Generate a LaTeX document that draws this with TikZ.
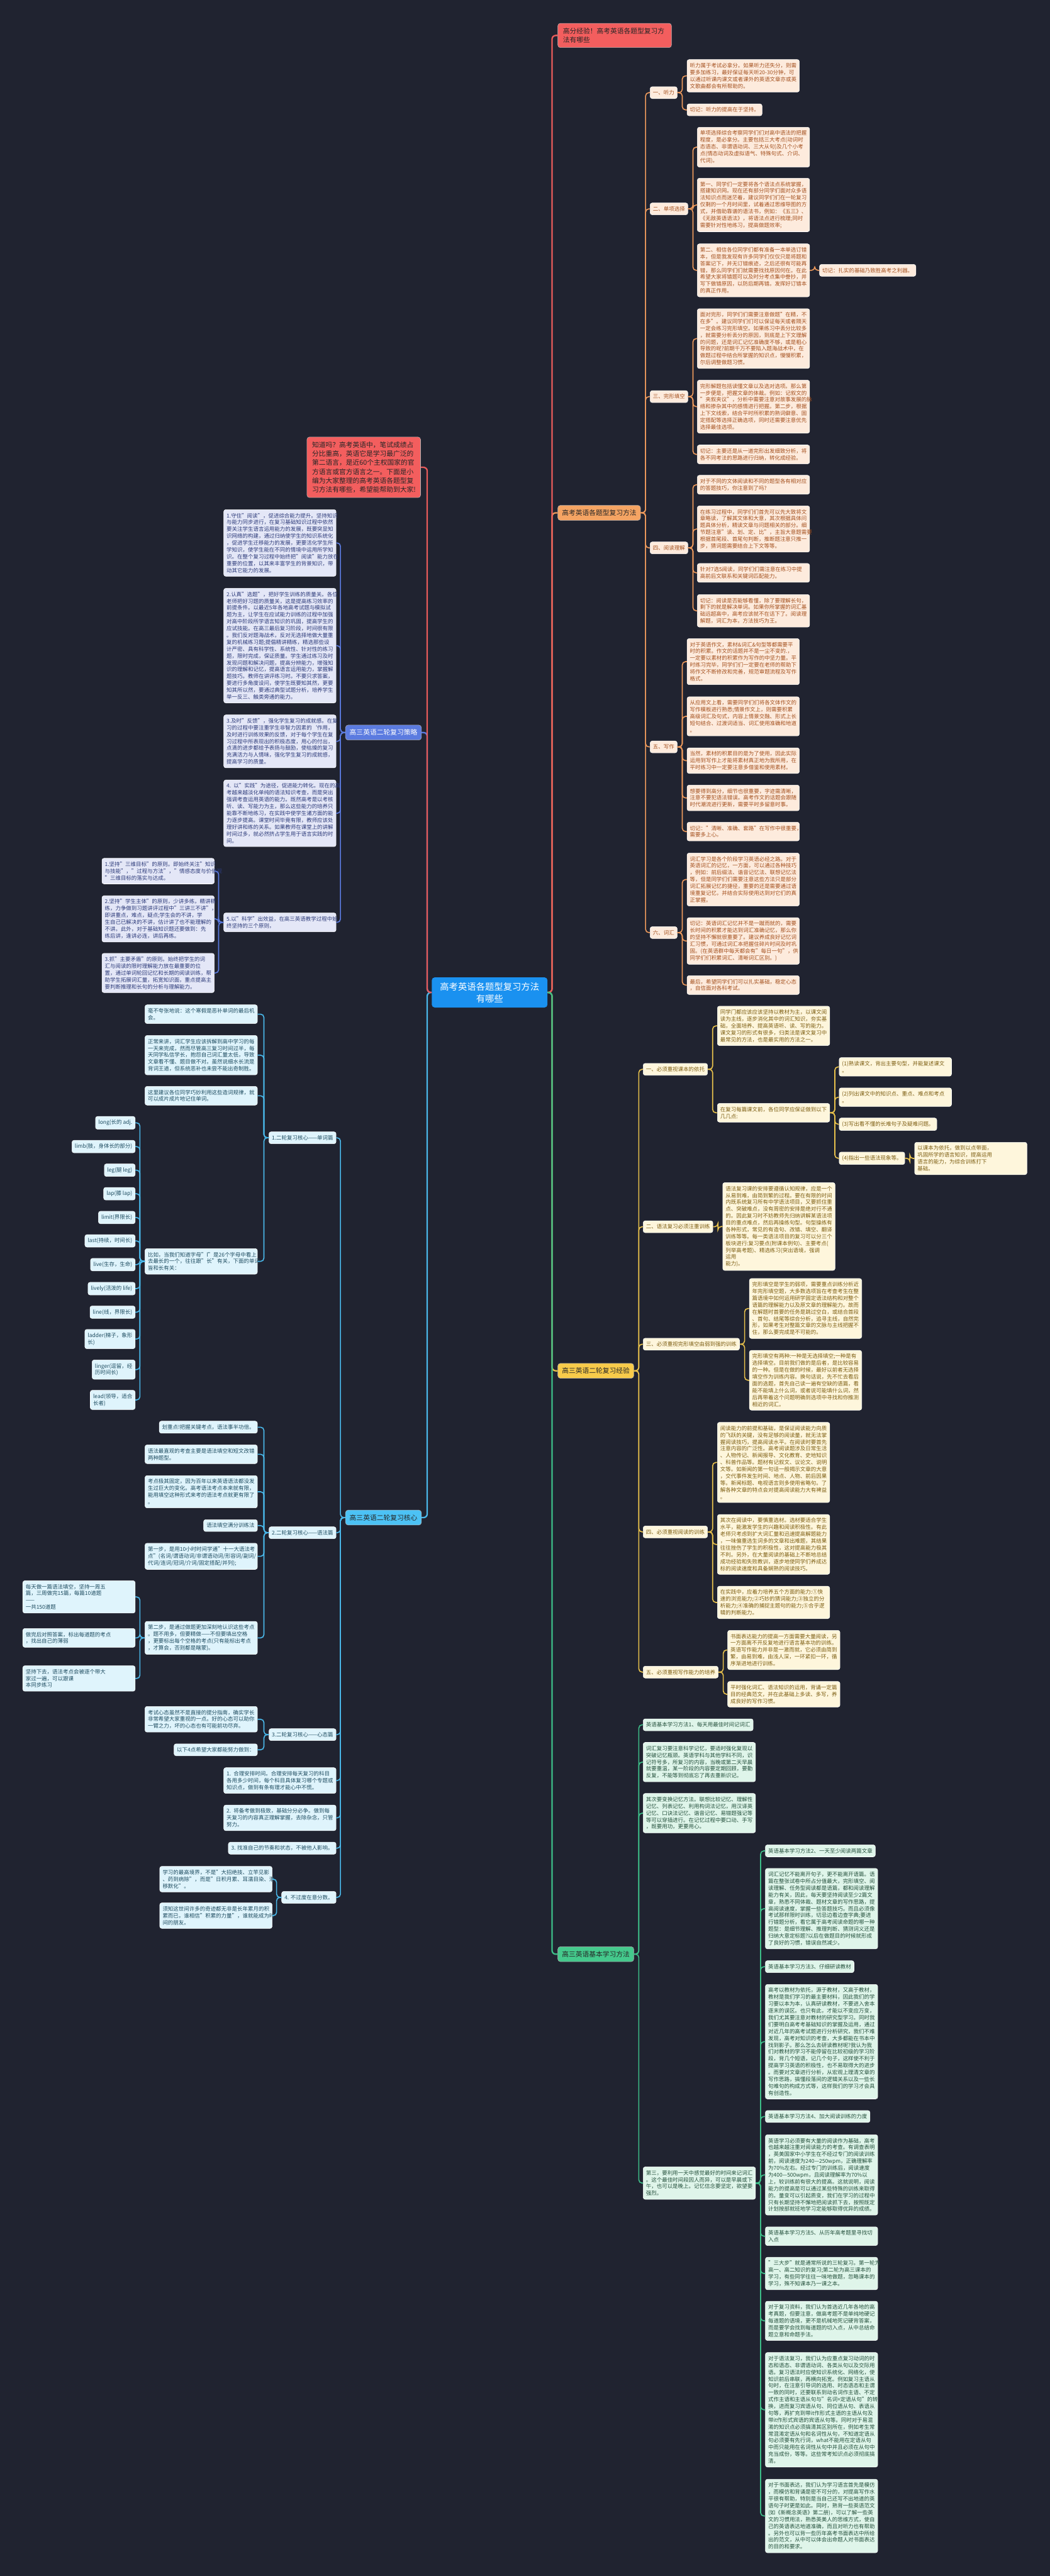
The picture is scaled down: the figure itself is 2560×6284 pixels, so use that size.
\documentclass[tikz,border=0pt]{standalone}
\usepackage{fontspec}
\setmainfont{Noto Sans CJK SC}
\definecolor{bgc}{HTML}{202330}
\definecolor{hubc}{HTML}{1A91F0}
\definecolor{redn}{HTML}{F35E5E}
\definecolor{rline}{HTML}{E85B5B}
\definecolor{orn}{HTML}{F5A463}
\definecolor{oline}{HTML}{EE9A5C}
\definecolor{ofill}{HTML}{FDEBDD}
\definecolor{otext}{HTML}{A4501E}
\definecolor{bln}{HTML}{5B7BE0}
\definecolor{bfill}{HTML}{E4E7F7}
\definecolor{btext}{HTML}{2D3B7A}
\definecolor{cyn}{HTML}{4CC2F5}
\definecolor{cline}{HTML}{4AB8EA}
\definecolor{cfill}{HTML}{DFF4FC}
\definecolor{ctext}{HTML}{1E4C60}
\definecolor{yln}{HTML}{F8CB4A}
\definecolor{yline}{HTML}{E9C24C}
\definecolor{yfill}{HTML}{FEF6DC}
\definecolor{ytext}{HTML}{7D5E12}
\definecolor{grn}{HTML}{44C98C}
\definecolor{gline}{HTML}{3DBE88}
\definecolor{gfill}{HTML}{DFF5EA}
\definecolor{gtext}{HTML}{24503C}
\tikzset{
  nd/.style={rounded corners=5pt, align=left, inner xsep=7pt, inner ysep=8.5pt,
    draw=white, line width=0.8pt, font=\fontsize{13}{16.7}\selectfont},
  wide/.style={text width=260pt},
  oleaf/.style={nd, fill=ofill, text=otext},
  bleaf/.style={nd, fill=bfill, text=btext},
  cleaf/.style={nd, fill=cfill, text=ctext},
  yleaf/.style={nd, fill=yfill, text=ytext},
  gleaf/.style={nd, fill=gfill, text=gtext},
  topic/.style={rounded corners=6pt, align=left, inner xsep=10pt, inner ysep=10.5pt,
    draw=white!70!black, line width=0.8pt, font=\fontsize{16.5}{22}\selectfont},
  note/.style={topic, fill=redn, text=black!85, text width=252pt, inner xsep=12.5pt, inner ysep=11pt},
  link/.style={line width=2.5pt, rounded corners=8pt},
  mainlink/.style={line width=3.5pt, rounded corners=9pt}
}
\begin{document}
\begin{tikzpicture}[x=1pt,y=-1pt]
\fill[bgc] (0,0) rectangle (2560,6284);
\useasboundingbox (0,0) rectangle (2560,6284);

% centre
\node[rounded corners=7pt, fill=hubc, text=white, align=center, inner xsep=20pt, inner ysep=12pt,
  font=\fontsize{22}{29}\selectfont] (hub) at (1194,2421) {高考英语各题型复习方法\\有哪些};

% ---------- right: topics ----------
\node[note, anchor=west] (tip) at (1360,86.5) {高分经验！高考英语各题型复习方\\法有哪些};
\node[topic, fill=orn, text=black!85, anchor=west] (ty) at (1360,1251) {高考英语各题型复习方法};
\node[topic, fill=yln, text=black!85, anchor=west] (jy) at (1360,3344) {高三英语二轮复习经验};
\node[topic, fill=grn, text=black!85, anchor=west] (ff) at (1360,4767) {高三英语基本学习方法};

\node[oleaf, anchor=west] (ty1) at (1585,226) {一、听力};
\node[oleaf, anchor=west] (ty2) at (1585,509.5) {二、单项选择};
\node[oleaf, anchor=west] (ty3) at (1585,967.5) {三、完形填空};
\node[oleaf, anchor=west] (ty4) at (1585,1336.5) {四、阅读理解};
\node[oleaf, anchor=west] (ty5) at (1585,1822) {五、写作};
\node[oleaf, anchor=west] (ty6) at (1585,2275) {六、词汇};

\node[oleaf, wide, anchor=west] (ty1a) at (1675,185) {听力属于考试必拿分。如果听力还失分，则需\\要多加练习，最好保证每天听20-30分钟，可\\以通过听课内课文或者课外的英语文章亦或英\\文歌曲都会有所帮助的。};
\node[oleaf, anchor=west] (ty1b) at (1675,268) {切记：听力的提高在于坚持。};

\node[oleaf, wide, anchor=west] (ty2a) at (1700,359) {单项选择综合考察同学们们对高中语法的把握\\程度，是必拿分。主要包括三大考点(动词时\\态语态、非谓语动词、三大从句)及几个小考\\点(情态动词及虚拟语气、特殊句式、介词、\\代词)。};
\node[oleaf, wide, anchor=west] (ty2b) at (1700,500) {第一、同学们一定要将各个语法点系统掌握，\\搭建知识网。现在还有部分同学们面对众多语\\法知识点而迷茫着，建议同学们们在一轮复习\\仅剩的一个月时间里，试着通过思维导图的方\\式，并借助靠谱的语法书，例如：《五三》、\\《无敌英语语法》，将语法点进行梳理;同时\\需要针对性地练习，提高做题效率;};
\node[oleaf, wide, anchor=west] (ty2c) at (1700,659.5) {第二、相信各位同学们都有准备一本单选订错\\本，但是我发现有许多同学们仅仅只是将题和\\答案记下，并无订错痕迹，之后还很有可能再\\错，那么同学们们就需要找找原因何在。在此\\希望大家将错题可以及时分考点集中誊抄，并\\写下做错原因，以防后期再错。发挥好订错本\\的真正作用。};
\node[oleaf, anchor=west] (ty2d) at (1998,659.5) {切记：扎实的基础乃致胜高考之利器。};

\node[oleaf, wide, anchor=west] (ty3a) at (1700,826) {面对完形，同学们们需要注意做题"在精，不\\在多"。建议同学们们可以保证每天或者隔天\\一定会练习完形填空。如果练习中丢分比较多\\，就需要分析丢分的原因，到底是上下文理解\\的问题，还是词汇记忆准确度不够，或是粗心\\导致的呢?前期千万不要陷入题海战术中，在\\做题过程中结合所掌握的知识点，慢慢积累，\\尔后调整做题习惯。};
\node[oleaf, wide, anchor=west] (ty3b) at (1700,992) {完形解题包括读懂文章以及选对选项。那么第\\一步便是，把握文章的体裁。例如：记叙文的\\"夹叙夹议"，分析中需要注意对故事发展的脉\\络和掺杂其中的感情进行把握。第二步，根据\\上下文线索，结合平时所积累的熟词僻意、固\\定搭配等选择正确选项，同时还需要注意优先\\选择最佳选项。};
\node[oleaf, wide, anchor=west] (ty3c) at (1700,1108.5) {切记：主要还是从一道完形出发细致分析，将\\各不同考法的思路进行归纳，转化成经验。};

\node[oleaf, wide, anchor=west] (ty4a) at (1700,1182.5) {对于不同的文体阅读和不同的题型各有相对应\\的答题技巧，你注意到了吗?};
\node[oleaf, wide, anchor=west] (ty4b) at (1700,1290.5) {在练习过程中，同学们们首先可以先大致将文\\章略读，了解其文体和大意，其次根据具体问\\题具体分析，精读文章与问题相关的部分。细\\节题注意"读、划、定、比"，主旨大意题需要\\根据首尾段、首尾句判断，推断题注意只推一\\步，猜词题需要结合上下文等等。};
\node[oleaf, wide, anchor=west] (ty4c) at (1700,1397.5) {针对7选5阅读，同学们们需注意在练习中提\\高前后文联系和关键词匹配能力。};
\node[oleaf, wide, anchor=west] (ty4d) at (1700,1490) {切记：阅读是否能够看懂，除了要理解长句，\\剩下的就是解决单词。如果你所掌握的词汇基\\础远超高中，高考应该就不在话下了。阅读理\\解题，词汇为本，方法技巧为王。};

\node[oleaf, wide, anchor=west] (ty5a) at (1675,1614) {对于英语作文，素材\&词汇\&句型等都需要平\\时的积累。作文的话题并不是一尘不变的.，\\一定要以素材的积累作为写作的中坚力量。平\\时练习完毕，同学们们一定要在老师的帮助下\\将作文不断修改和完善，规范审题流程及写作\\格式。};
\node[oleaf, wide, anchor=west] (ty5b) at (1675,1747.5) {从应用文上看，需要同学们们将各文体作文的\\写作模板进行熟悉;情景作文上，则需要积累\\高级词汇及句式，内容上情景交融、形式上长\\短句结合、过渡词适当、词汇使用准确和地道\\。};
\node[oleaf, wide, anchor=west] (ty5c) at (1675,1855.5) {当然，素材的积累目的是为了使用，因此实际\\运用到写作上才能将素材真正地为我所用，在\\平时练习中一定要注意多借鉴和使用素材。};
\node[oleaf, wide, anchor=west] (ty5d) at (1675,1946.5) {想要得到高分，细节也很重要，字迹需清晰，\\注意不要犯语法错误。高考作文的话题会跟随\\时代潮流进行更新，需要平时多留意时事。};
\node[oleaf, wide, anchor=west] (ty5e) at (1675,2028.5) {切记："清晰、准确、套路"在写作中很重要，\\需要多上心。};

\node[oleaf, wide, anchor=west] (ty6a) at (1675,2145.5) {词汇学习是各个阶段学习英语必经之路。对于\\英语词汇的记忆，一方面，可以通过各种技巧\\，例如：前后缀法、谐音记忆法、联想记忆法\\等，但是同学们们需要注意这些方法只是部分\\词汇拓展记忆的捷径，重要的还是需要通过语\\境重复记忆，并结合实际使用达到对它们的真\\正掌握。};
\node[oleaf, wide, anchor=west] (ty6b) at (1675,2295.5) {切记：英语词汇记忆并不是一蹴而就的，需要\\长时间的积累才能达到词汇准确记忆，那么你\\的坚持不懈就很重要了。建议养成良好记忆词\\汇习惯，可通过词汇本把握住碎片时间及时巩\\固。(在英语群中每天都会有"每日一句"，供\\同学们们积累词汇、清晰词汇区别。)};
\node[oleaf, wide, anchor=west] (ty6c) at (1675,2403) {最后，希望同学们们可以扎实基础，稳定心态\\，自信面对各科考试。};

% yellow
\node[yleaf, anchor=west] (jy1) at (1568,2608.5) {一、必须重视课本的依托};
\node[yleaf, anchor=west] (jy2) at (1568,2992.5) {二、语法复习必须注重训练};
\node[yleaf, anchor=west] (jy3) at (1568,3279) {三、必须重视完形填空由弱到强的训练};
\node[yleaf, anchor=west] (jy4) at (1568,3737) {四、必须重视阅读的训练};
\node[yleaf, anchor=west] (jy5) at (1568,4079) {五、必须重视写作能力的培养};

\node[yleaf, wide, anchor=west] (jy1a) at (1749,2502.5) {同学门都应该应该坚持以教材为主，以课文阅\\读为主线，逐步消化其中的词汇知识，夯实基\\础，全面培养、提高英语听、读、写的能力。\\课文复习的形式有很多，归类法是课文复习中\\最常见的方法，也是最实用的方法之一。};
\node[yleaf, wide, anchor=west] (jy1b) at (1749,2714.5) {在复习每篇课文前，各位同学应保证做到以下\\几几点:};
\node[yleaf, wide, anchor=west] (jy1b1) at (2046,2602.5) {(1)熟读课文，背出主要句型，并能复述课文\\。};
\node[yleaf, wide, anchor=west] (jy1b2) at (2046,2676.5) {(2)列出课文中的知识点、重点、难点和考点\\。};
\node[yleaf, anchor=west] (jy1b3) at (2046,2742.5) {(3)写出看不懂的长难句子及疑难问题。};
\node[yleaf, anchor=west] (jy1b4) at (2046,2825.5) {(4)指出一些语法现象等。};
\node[yleaf, wide, anchor=west] (jy1b4a) at (2230,2826) {以课本为依托，做到以点带面，\\巩固所学的语言知识，提高运用\\语言的能力，为综合训练打下\\基础。};
\node[yleaf, wide, anchor=west] (jy2a) at (1762,2992) {语法复习课的安排要遵循认知规律，应是一个\\从易到难，由简到繁的过程。要在有限的时间\\内既系统复习所有中学语法项目，又要抓住重\\点、突破难点，没有周密的安排是绝对行不通\\的。因此复习时不妨教师先归纳讲解某语法项\\目的重点难点，然后再操练句型。句型操练有\\各种形式，常见的有造句、改错、填空、翻译\\训练等等。每一类语法项目的复习可以分三个\\板块进行:复习要点(附课本例句)、主要考点(\\列举高考题)、精选练习(突出语境，强调 运用\\能力)。};
\node[yleaf, wide, anchor=west] (jy3a) at (1827,3192) {完形填空是学生的弱项，需要重点训练分析近\\年完形填空题，大多数选项旨在考查考生在整\\篇语境中如何运用研学固定语法结构和对整个\\语篇的理解能力以及原文章的理解能力。故而\\在解题时首要的任务是跳过空白，或结合首段\\、首句、结尾等综合分析，追寻主线，自然完\\形，如果考生对整篇文章的文脉与主线把握不\\住，那么要完成是不可能的。};
\node[yleaf, wide, anchor=west] (jy3b) at (1827,3367) {完形填空有两种:一种是无选择填空;一种是有\\选择填空。目前我们做的是后者，是比较容易\\的一种。但是在做的时候，最好以前者无选择\\填空作为训练内容。换句话说，先不忙去看后\\面的选题，首先自己读一遍有空缺的语篇，看\\能不能填上什么词，或者说可能填什么词，然\\后再带着这个问题明确到选项中寻找和你推测\\相近的词汇。};
\node[yleaf, wide, anchor=west] (jy4a) at (1749,3567.5) {阅读能力的前提和基础，是保证阅读能力向质\\的飞跃的关键，没有足够的阅读量，就无法掌\\握阅读技巧，提高阅读水平。在阅读时要首先\\注意内容的广泛性。高考阅读题涉及日常生活\\、人物传记、新闻报导、文化教育、史地知识\\、科普作品等。题材有记叙文、议论文、说明\\文等。如新闻的第一句话一般揭示文章的大意\\，交代事件发生时间、地点、人物、前后因果\\等。新闻标题、电视语言则多使用省略句。了\\解各种文章的特点会对提高阅读能力大有裨益\\。};
\node[yleaf, wide, anchor=west] (jy4b) at (1749,3767.5) {其次在阅读中，要慎重选材。选材要适合学生\\水平，能激发学生的兴趣和阅读积极性。有此\\老师只考虑到扩大词汇量和迅速提高解题能力\\，一味偏重选生词多的文章和出难题，其结果\\往往挫伤了学生的积极性，这对提高能力极其\\不利。另外，在大量阅读的基础上不断地总结\\成功经验和失败教训，逐步地使同学们养成达\\标的阅读速度和具备娴熟的阅读技巧。};
\node[yleaf, wide, anchor=west] (jy4c) at (1749,3909) {在实践中，应着力培养五个方面的能力:①快\\速的浏览能力;②巧妙的猜词能力;③独立的分\\析能力;④准确的捕捉主题句的能力;⑤合乎逻\\辑的判断能力。};
\node[yleaf, wide, anchor=west] (jy5a) at (1774,4025) {书面表达能力的提高一方面需要大量阅读，另\\一方面离不开反复地进行语言基本功的训练。\\英语写作能力并非是一激而就，它必须由简到\\繁，由易到难，由浅人深，一环紧扣一环，循\\序渐进地进行训练。};
\node[yleaf, wide, anchor=west] (jy5b) at (1774,4133) {平时强化词汇、语法知识的运用，背诵一定篇\\目的经典范文，并在此基础上多读、多写，养\\成良好的写作习惯。};

% green
\node[gleaf, anchor=west] (ff1) at (1568,4207.5) {英语基本学习方法1、每天用最佳时间记词汇};
\node[gleaf, wide, anchor=west] (ff2) at (1568,4298.5) {词汇复习要注意科学记忆，要适时强化复现以\\突破记忆瓶颈。英语学科与其他学科不同，识\\记符号多，所复习的内容，当晚或第二天早晨\\就要重温，某一阶段的内容要定期回顾，要勤\\反复，不能等到彻底忘了再去重新识记。};
\node[gleaf, wide, anchor=west] (ff3) at (1568,4423) {其次要变换记忆方法。联想比较记忆、理解性\\记忆、列表记忆、利用构词法记忆，用汉译英\\记忆、口诀法记忆、谐音记忆、易错题强记等\\等可以穿插进行。在记忆过程中要口动、手写\\，既要用功，更要用心。};
\node[gleaf, wide, anchor=west] (ff4) at (1568,5325.5) {第三，要利用一天中感觉最好的时间来记词汇\\。这个最佳时间段因人而异，可以是早晨或下\\午，也可以是晚上。记忆信念要坚定，欲望要\\强烈。};
\node[gleaf, anchor=west] (ff4a) at (1866,4515) {英语基本学习方法2、一天至少阅读两篇文章};
\node[gleaf, wide, anchor=west] (ff4b) at (1866,4656) {词汇记忆不能离开句子，更不能离开语篇。语\\篇在整张试卷中所占分值最大，完形填空、阅\\读理解、任务型阅读都是语篇，都和阅读理解\\能力有关，因此，每天要坚持阅读至少2篇文\\章，熟悉不同体裁、题材文章的写作思路，提\\高阅读速度，掌握一些答题技巧。而且必须像\\考试那样限时训练，切忌边看边查字典;要进\\行错题分析，看它属于高考阅读命题的哪一种\\题型：是细节理解、推理判断、猜测词义还是\\归纳大意定标题?以后在做题目的时候就形成\\了良好的习惯，错误自然减少。};
\node[gleaf, anchor=west] (ff4c) at (1866,4797.5) {英语基本学习方法3、仔细研读教材};
\node[gleaf, wide, anchor=west] (ff4d) at (1866,4980.5) {高考以教材为依托，源于教材，又高于教材，\\教材是我们学习的最主要材料，因此我们的学\\习要以本为本，认真研读教材，不要进入舍本\\逐末的误区。也只有此，才能以不变应万变，\\我们尤其要注意对教材的研究型学习。同时我\\们要明白高考考基础知识的掌握及运用，通过\\对近几年的高考试题进行分析研究，我们不难\\发现，高考对知识的考查，大多都能在书本中\\找到影子。那么怎么去研读教材呢?我认为我\\们对教材的学习不能停留在比较初级的学习阶\\段，背几个短语，记几个句子，这样使不利于\\提高学习英语的积极性，也不易取得大的进步\\。而要对文章进行分析，从宏观上理清文章的\\写作思路，搞懂段落间的逻辑关系以及一些长\\句难句的构成方式等，这样我们的学习才会具\\有创造性。};
\node[gleaf, anchor=west] (ff4e) at (1866,5163) {英语基本学习方法4、加大阅读训练的力度};
\node[gleaf, wide, anchor=west] (ff4f) at (1866,5305.5) {英语学习必须要有大量的阅读作为基础，高考\\也越来越注重对阅读能力的考查。有调查表明\\，英美国家中小学生在不经过专门的阅读训练\\前，阅读速度为240—250wpm，正确理解率\\为70\%左右。经过专门的训练后，阅读速度\\为400—500wpm，且阅读理解率为70\%以\\上，较训练前有很大的提高。这就说明，阅读\\能力的提高是可以通过某些特殊的训练来取得\\的。量变可以引起质变，我们在学习的过程中\\只有长期坚持不懈地把阅读抓下去，按照既定\\计划按部就班地学习定能够取得优异的成绩。};
\node[gleaf, wide, anchor=west] (ff4g) at (1866,5455) {英语基本学习方法5、从历年高考题里寻找切\\入点};
\node[gleaf, wide, anchor=west] (ff4h) at (1866,5546) {"三大步"就是通常所说的三轮复习。第一轮为\\高一、高二知识的复习;第二轮为高三课本的\\学习，有些同学往往一味地做题，忽略课本的\\学习，殊不知课本乃一课之本。};
\node[gleaf, wide, anchor=west] (ff4i) at (1866,5661.5) {对于复习资料，我们认为首选近几年各地的高\\考真题，但要注意，做高考题不是单纯地硬记\\每道题的语境，更不是机械地死记硬背答案，\\而是要学会找到每道题的切入点，从中总结命\\题立意和命题手法。};
\node[gleaf, wide, anchor=west] (ff4j) at (1866,5878.5) {对于语法复习，我们认为应重点复习动词的时\\态和语态、非谓语动词、各类从句以及交际用\\语。复习语法时应使知识系统化、网络化，使\\知识前后串联，再横向拓宽。例如复习主语从\\句时，在注意引导词的选用、时态语态和主谓\\一致的同时，还要联系到动名词作主语、不定\\式作主语和主语从句与"名词+定语从句"的转\\换，进而复习宾语从句、同位语从句、表语从\\句等，再扩充到带it作形式主语的主语从句及\\带it作形式宾语的宾语从句等。同时对于易混\\淆的知识点必须搞清其区别所在，例如考生常\\常混淆定语从句和名词性从句，不知道定语从\\句必须要有先行词，what不能用在定语从句\\中而只能用在名词性从句中并且必须在从句中\\充当成份，等等。这些常考知识点必须彻底搞\\清。};
\node[gleaf, wide, anchor=west] (ff4k) at (1866,6137.5) {对于书面表达，我们认为学习语言首先是模仿\\，而模仿和背诵是密不可分的，对提高写作水\\平很有帮助，特别是当自己还写不出地道的英\\语句子时更是如此。同时，熟背一些英语范文\\(如《新概念英语》第二册)，可以了解一些英\\文的习惯用法，熟悉英美人的思维方式，使自\\己的英语表达地道准确，而且对听力也有帮助\\。另外也可以背一些历年高考书面表达中所给\\出的范文，从中可以体会出命题人对书面表达\\的目的和要求。};

% ---------- left ----------
\node[note, anchor=east] (intro) at (1026,1140) {知道吗？高考英语中，笔试成绩占\\分比重高，英语它是学习最广泛的\\第二语言，是近60个主权国家的官\\方语言或官方语言之一。下面是小\\编为大家整理的高考英语各题型复\\习方法有哪些，希望能帮助到大家!};
\node[topic, fill=bln, text=white, anchor=east] (cl) at (1028,1787) {高三英语二轮复习策略};
\node[topic, fill=cyn, text=black!85, anchor=east] (hx) at (1028,3702) {高三英语二轮复习核心};

\node[bleaf, wide, anchor=east] (cl1) at (820,1324.5) {1.守住"阅读"，促进综合能力提升。坚持知识\\与能力同步进行，在复习基础知识过程中依然\\要关注学生语言运用能力的发展，既要突显知\\识网络的构建，通过归纳使学生的知识系统化\\，促进学生迁移能力的发展，更要活化学生所\\学知识，使学生能在不同的情境中运用所学知\\识。在整个复习过程中始终把"阅读"能力放在\\重要的位置，以其来丰富学生的背景知识，带\\动其它能力的发展。};
\node[bleaf, wide, anchor=east] (cl2) at (820,1575) {2.认真"选题"，把好学生训练的质量关。各位\\老师把好习题的质量关，这是提高练习效率的\\前提条件。以最近5年各地高考试题与模拟试\\题为主，让学生在应试能力训练的过程中加强\\对高中阶段所学语言知识的巩固，提高学生的\\应试技能。在高三最后复习阶段，时间很有限\\。我们反对题海战术，反对无选择地做大量重\\复的机械练习题;提倡精讲精练，精选那些设\\计严密、具有科学性、系统性、针对性的练习\\题，限时完成，保证质量。学生通过练习及时\\发现问题和解决问题，提高分辨能力，增强知\\识的理解和记忆，提高语言运用能力，掌握解\\题技巧。教师在讲评练习时。不要只求答案，\\要进行多角度设问，使学生既要知其然，更要\\知其所以然，要通过典型试题分析，培养学生\\举一反三、触类旁通的能力。};
\node[bleaf, wide, anchor=east] (cl3) at (820,1808.5) {3.及时"反馈"，强化学生复习的成就感。在复\\习的过程中要注重学生非智力因素的`作用，\\及时进行训练效果的反馈，对于每个学生在复\\习过程中所表现出的积极态度，用心的付出，\\点滴的进步都给予表扬与鼓励，使枯燥的复习\\充满活力与人情味，强化学生复习的成就感，\\提高学习的质量。};
\node[bleaf, wide, anchor=east] (cl4) at (820,1984) {4. 以"实践"为途径，促进能力转化。现在的高\\考越来越淡化单纯的语法知识考查，而是突出\\强调考查运用英语的能力。既然高考是以考核\\听、读、写能力为主，那么这些能力的培养只\\能靠不断地练习，在实践中使学生诸方面的能\\力逐步提高。课堂时间毕竟有限，教师应该处\\理好讲和练的关系。如果教师在课堂上的讲解\\时间过多，就必然挤占学生用于语言实践的时\\间。};
\node[bleaf, wide, anchor=east] (cl5) at (820,2250) {5.以"科学"出效益，在高三英语教学过程中始\\终坚持的三个原则，};
\node[bleaf, wide, anchor=east] (cl5a) at (523,2125) {1.坚持"三维目标"的原则。即始终关注"知识\\与技能"，"过程与方法"，"情感态度与价值观\\"三维目标的落实与达成。};
\node[bleaf, wide, anchor=east] (cl5b) at (523,2241.5) {2.坚持"学生主体"的原则，少讲多练，精讲精\\练，力争做到习题讲评过程中"三讲三不讲"，\\即讲重点，难点，疑点;学生会的不讲，学\\生自己已解决的不讲，估计讲了也不能理解的\\不讲。此外，对于基础知识题还要做到：先\\练后讲，逢讲必连，讲后再练。};
\node[bleaf, wide, anchor=east] (cl5c) at (523,2373.5) {3.抓"主要矛盾"的原则。始终把学生的词\\汇与阅读的限时理解能力放在最重要的位\\置，通过单词轮回记忆和长期的阅读训练，帮\\助学生拓展词汇量，拓宽知识面，重点提高主\\要判断推理和长句的分析与理解能力。};

\node[cleaf, anchor=east] (hx1) at (820,2775.5) {1.二轮复习核心——单词篇};
\node[cleaf, anchor=east] (hx2) at (820,3739) {2.二轮复习核心——语法篇};
\node[cleaf, anchor=east] (hx3) at (820,4231.5) {3.二轮复习核心——心态篇};
\node[cleaf, wide, anchor=east] (hx4) at (820,4343.5) {1. 合理安排时间。合理安排每天复习的科目\\各用多少时间，每个科目具体复习哪个专题或\\知识点，做到有条有理才能心中不慌。};
\node[cleaf, wide, anchor=east] (hx5) at (820,4434.5) {2. 将备考做到极致，基础分分必争。做到每\\天复习的内容真正理解掌握，去除杂念，只管\\努力。};
\node[cleaf, anchor=east] (hx6) at (820,4508.5) {3. 找准自己的节奏和状态，不被他人影响。};
\node[cleaf, anchor=east] (hx7) at (820,4628.5) {4. 不过度在意分数。};

\node[cleaf, wide, anchor=east] (hx1a) at (628,2474) {毫不夸张地说：这个寒假是恶补单词的最后机\\会。};
\node[cleaf, wide, anchor=east] (hx1b) at (628,2574) {正常来讲，词汇学生应该拆解到高中学习的每\\一天来完成，然而尽管高三复习时间过半，每\\天同学私信学长，抱怨自己词汇量太低，导致\\文章看不懂、题目做不对。虽然说细水长流是\\背词王道，但系统恶补也未尝不能出奇制胜。};
\node[cleaf, wide, anchor=east] (hx1c) at (628,2673) {这里建议各位同学巧妙利用这些造词规律，就\\可以成片成片地记住单词。};
\node[cleaf, wide, anchor=east] (hx1d) at (628,3077) {比如，当我们知道字母"l"是26个字母中看上\\去最长的一个，往往跟"长"有关，下面的单词\\皆和长有关：};
\node[cleaf, anchor=east] (w1) at (330,2739) {long(长的 adj.};
\node[cleaf, anchor=east] (w2) at (330,2797) {limb(肢，身体长的部分)};
\node[cleaf, anchor=east] (w3) at (330,2854.5) {leg(腿 leg)};
\node[cleaf, anchor=east] (w4) at (330,2912) {lap(膝 lap)};
\node[cleaf, anchor=east] (w5) at (330,2970) {limit(界限长)};
\node[cleaf, anchor=east] (w6) at (330,3027) {last(持续，时间长)};
\node[cleaf, anchor=east] (w7) at (330,3085) {live(生存，生命)};
\node[cleaf, anchor=east] (w8) at (330,3143.5) {lively(活泼的 life)};
\node[cleaf, anchor=east] (w9) at (330,3201) {line(线，界限长)};
\node[cleaf, anchor=east] (w10) at (330,3266.5) {ladder(梯子，象形\\长)};
\node[cleaf, anchor=east] (w11) at (330,3341) {linger(逗留，经\\历时间长)};
\node[cleaf, anchor=east] (w12) at (330,3415) {lead(领导，适合\\长者)};

\node[cleaf, anchor=east] (hx2a) at (628,3481.5) {划重点!把握关键考点，语法事半功倍。};
\node[cleaf, wide, anchor=east] (hx2b) at (628,3547.5) {语法最直观的考查主要是语法填空和短文改错\\两种题型。};
\node[cleaf, wide, anchor=east] (hx2c) at (628,3639) {考点极其固定，因为百年以来英语语法都没发\\生过巨大的变化。高考语法考点本来就有限，\\能用填空这种形式来考的语法考点就更有限了\\。};
\node[cleaf, anchor=east] (hx2d) at (628,3721.5) {语法填空满分训练法};
\node[cleaf, wide, anchor=east] (hx2e) at (628,3796.5) {第一步，是用10小时时间学通"十一大语法考\\点"(名词/谓语动词/非谓语动词/形容词/副词/\\代词/连词/冠词/介词/固定搭配/并列);};
\node[cleaf, wide, anchor=east] (hx2f) at (628,3995.5) {第二步，是通过做题更加深刻地认识这些考点\\。题不用多，但要精做——不但要填出空格\\，更要标出每个空格的考点(只有能标出考点\\，才算会，否则都是瞎蒙)。};
\node[cleaf, wide, anchor=east] (s1) at (330,3895.5) {每天做一篇语法填空，坚持一周五\\篇，三周做完15篇，每篇10道题\\——\\一共150道题};
\node[cleaf, wide, anchor=east] (s2) at (330,3995.5) {做完后对照答案，标出每道题的考点\\，找出自己的薄弱};
\node[cleaf, wide, anchor=east] (s3) at (330,4094.5) {坚持下去，语法考点会被逐个带大\\家过一遍，可以跟课\\本同步练习};

\node[cleaf, wide, anchor=east] (hx3a) at (628,4194) {考试心态虽然不是直接的提分指南，确实学长\\非常希望大家重视的一点。好的心态可以助你\\一臂之力，坏的心态也有可能前功尽弃。};
\node[cleaf, anchor=east] (hx3b) at (628,4268.5) {以下4点希望大家都能努力做到：};
\node[cleaf, wide, anchor=east] (hx7a) at (664,4584) {学习的最高境界，不是"大招绝技、立竿见影\\、药到病除"，而是"日积月累、耳濡目染、潜\\移默化"。};
\node[cleaf, wide, anchor=east] (hx7b) at (664,4673) {须知这世间许多的奇迹都无非是长年累月的积\\累而已，谁相信"积累的力量"，谁就能成为时\\间的朋友。};

% ---------- connectors ----------
\foreach \c/\k in {ty/oline, tip/rline, jy/yline, ff/gline}
  \draw[mainlink, draw=\k] (hub.east) -- ++(11,0) |- (\c.west);
\foreach \c/\k in {cl/bln, hx/cline, intro/rline}
  \draw[mainlink, draw=\k] (hub.west) -- ++(-11,0) |- (\c.east);

\foreach \p/\c in {ty/ty1, ty/ty2, ty/ty3, ty/ty4, ty/ty5, ty/ty6,
    ty1/ty1a, ty1/ty1b, ty2/ty2a, ty2/ty2b, ty2/ty2c, ty2c/ty2d,
    ty3/ty3a, ty3/ty3b, ty3/ty3c, ty4/ty4a, ty4/ty4b, ty4/ty4c, ty4/ty4d,
    ty5/ty5a, ty5/ty5b, ty5/ty5c, ty5/ty5d, ty5/ty5e, ty6/ty6a, ty6/ty6b, ty6/ty6c}
  \draw[link, draw=oline] (\p.east) -- ++(12,0) |- (\c.west);

\foreach \p/\c in {jy/jy1, jy/jy2, jy/jy3, jy/jy4, jy/jy5, jy1/jy1a, jy1/jy1b,
    jy1b/jy1b1, jy1b/jy1b2, jy1b/jy1b3, jy1b/jy1b4, jy1b4/jy1b4a, jy2/jy2a,
    jy3/jy3a, jy3/jy3b, jy4/jy4a, jy4/jy4b, jy4/jy4c, jy5/jy5a, jy5/jy5b}
  \draw[link, draw=yline] (\p.east) -- ++(12,0) |- (\c.west);

\foreach \p/\c in {ff/ff1, ff/ff2, ff/ff3, ff/ff4, ff4/ff4a, ff4/ff4b, ff4/ff4c, ff4/ff4d,
    ff4/ff4e, ff4/ff4f, ff4/ff4g, ff4/ff4h, ff4/ff4i, ff4/ff4j, ff4/ff4k}
  \draw[link, draw=gline] (\p.east) -- ++(12,0) |- (\c.west);

\foreach \p/\c in {cl/cl1, cl/cl2, cl/cl3, cl/cl4, cl/cl5, cl5/cl5a, cl5/cl5b, cl5/cl5c}
  \draw[link, draw=bln] (\p.west) -- ++(-12,0) |- (\c.east);

\foreach \p/\c in {hx/hx1, hx/hx2, hx/hx3, hx/hx4, hx/hx5, hx/hx6, hx/hx7,
    hx1/hx1a, hx1/hx1b, hx1/hx1c, hx1/hx1d, hx1d/w1, hx1d/w2, hx1d/w3, hx1d/w4, hx1d/w5,
    hx1d/w6, hx1d/w7, hx1d/w8, hx1d/w9, hx1d/w10, hx1d/w11, hx1d/w12,
    hx2/hx2a, hx2/hx2b, hx2/hx2c, hx2/hx2d, hx2/hx2e, hx2/hx2f, hx2f/s1, hx2f/s2, hx2f/s3,
    hx3/hx3a, hx3/hx3b, hx7/hx7a, hx7/hx7b}
  \draw[link, draw=cline] (\p.west) -- ++(-12,0) |- (\c.east);
\end{tikzpicture}
\end{document}
